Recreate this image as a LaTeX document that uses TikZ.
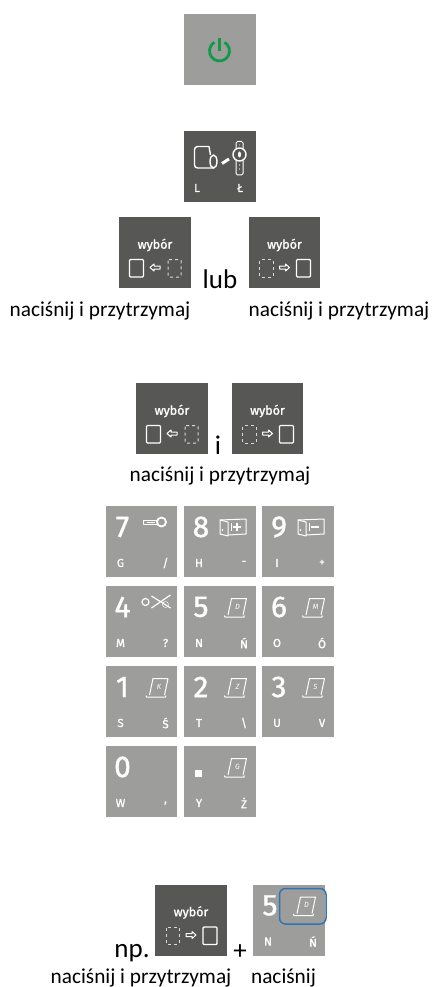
\documentclass[tikz,border=0pt]{standalone}
\usepackage{fontspec}
\setmainfont{Carlito}
\newfontfamily\keyfont{Fira Sans}
\newfontfamily\digitfont[FakeBold=1.2]{Fira Sans}
\definecolor{keygray}{HTML}{9D9D9C}
\definecolor{keydark}{HTML}{575756}
\definecolor{powergreen}{HTML}{139A48}
\definecolor{bluemark}{HTML}{2F75B5}
\tikzset{
  keybox/.style={fill=keygray,draw=none,minimum width=71.5pt,minimum height=71pt,inner sep=0,anchor=north west},
  darkbox/.style={fill=keydark,draw=none,minimum width=71.5pt,minimum height=71pt,inner sep=0,anchor=north west},
  digit/.style={text=white,inner sep=0,font=\digitfont\fontsize{30}{30}\selectfont},
  lab/.style={text=white,inner sep=0,font=\digitfont\fontsize{11.5}{12}\selectfont},
  paperletter/.style={text=white,inner sep=0,font=\keyfont\itshape\fontsize{7.5}{8}\selectfont},
  caption/.style={inner sep=0,anchor=base,text=black,font=\fontsize{21.3}{22}\selectfont},
  bigcaption/.style={inner sep=0,anchor=base,text=black,font=\fontsize{27}{28}\selectfont},
  wybor/.style={text=white,inner sep=0,font=\digitfont\fontsize{12.5}{13}\selectfont},
  icon/.style={draw=white,line width=1pt,line join=round},
  iconthick/.style={draw=white,line width=1.4pt,line join=round},
  dashedicon/.style={draw=white!85!black,line width=1pt,dash pattern=on 3pt off 3pt},
}
\newcommand{\paperico}[1]{%
  \draw[icon] (44,29) -- (47.5,12.5) -- (62.5,12.5) -- (59,29);
  \draw[icon] (40.5,29.5) -- (41,31) -- (60,31) -- (60.5,29.5);
  \node[paperletter] at (53.5,20.5) {#1};
}
\newcommand{\bookico}[1]{%
  \draw[icon] (36,14) -- (44,16) -- (44,30) -- (36,28) -- cycle;
  \draw[icon] (36,14) -- (62,13) -- (62,28) -- (44,29);
  \draw[icon] (47,17) -- (47,25);
  \fill[white] (38.5,24) circle[radius=1pt];
  \ifx+#1\draw[iconthick] (53,17) -- (53,25) (49,21) -- (57,21);\else\draw[iconthick] (49,21) -- (57,21);\fi
}
\newcommand{\keycap}[7]{%
  \node[keybox] (#1) at (#2,#3) {};
  \begin{scope}[shift={(#2,#3)}]
    \node[digit] (#1d) at (17,21) {#4};
    \node[lab] (#1l) at (15,57) {#5};
    \node[lab] (#1r) at (60,57) {#6};
    #7
  \end{scope}
}
\newcommand{\selectkeyL}[3]{%
  \node[darkbox] (#1) at (#2,#3) {};
  \begin{scope}[shift={(#2,#3)}]
    \node[wybor] (#1t) at (36,28) {wybór};
    \draw[iconthick,rounded corners=1pt] (10.5,42.5) rectangle (24.5,60);
    \draw[icon] (31,50.5) -- (35,47) -- (35,49) -- (41,49) -- (41,52) -- (35,52) -- (35,54) -- cycle;
    \draw[dashedicon,rounded corners=1pt] (49,42.5) rectangle (62,60);
  \end{scope}
}
\newcommand{\selectkeyR}[3]{%
  \node[darkbox] (#1) at (#2,#3) {};
  \begin{scope}[shift={(#2,#3)}]
    \node[wybor] (#1t) at (36,28) {wybór};
    \draw[dashedicon,rounded corners=1pt] (11,42.5) rectangle (24.5,60);
    \draw[icon] (41,50.5) -- (37,47) -- (37,49) -- (31,49) -- (31,52) -- (37,52) -- (37,54) -- cycle;
    \draw[iconthick,rounded corners=1pt] (48,42.5) rectangle (62,60);
  \end{scope}
}
\begin{document}
\begin{tikzpicture}[x=1pt,y=-1pt]
\useasboundingbox (0,0) rectangle (432,987);
% power
\node[keybox] (power) at (184,14) {};
\draw[powergreen,line width=2.8pt] (224.5,42.3) arc[start angle=60,end angle=-240,radius=10pt];
\draw[powergreen,line width=2.8pt] (219.5,38) -- (219.5,51);
% L key
\node[darkbox] (lkey) at (184,131) {};
\begin{scope}[shift={(184,131)}]
  \draw[iconthick,rounded corners=3pt] (25,15.5) -- (10.5,15.5) -- (10.5,37) -- (30,37);
  \draw[iconthick,rounded corners=2pt] (25,15.5) -- (26.5,24);
  \draw[iconthick] (29.5,30.5) ellipse[x radius=3.5pt,y radius=6.5pt];
  \draw[white,line width=3pt] (38,32.5) -- (45,28);
  \draw[icon,rounded corners=1.5pt] (52,10.5) rectangle (59,44);
  \fill[keydark] (55.5,23.5) circle[radius=7pt];
  \draw[iconthick] (55.5,23.5) circle[radius=6.5pt];
  \fill[white] (55.5,23.5) ellipse[x radius=1.5pt,y radius=3pt];
  \fill[white] (55.5,34) circle[radius=.7pt] (55.5,38) circle[radius=.7pt] (55.5,14) circle[radius=.5pt];
  \node[lab] (lkeyl) at (13,57) {L};
  \node[lab] (lkeyr) at (56,57) {Ł};
\end{scope}
% first selection pair
\selectkeyL{sa}{119}{217}
\node[bigcaption] (lub) at (220,288) {lub};
\selectkeyR{sb}{248.5}{217}
\node[caption] (ca) at (100,316.5) {naciśnij i przytrzymaj};
\node[caption] (cb) at (339,316.5) {naciśnij i przytrzymaj};
% second pair
\selectkeyL{sc}{136}{383}
\node[bigcaption] (andi) at (218,454) {i};
\selectkeyR{sd}{231.5}{383}
\node[caption] (cc) at (220,481) {naciśnij i przytrzymaj};
% keypad
\keycap{k7}{105.5}{506}{7}{G}{/}{%
  \draw[white,line width=1.8pt] (56,16) circle[radius=4.5pt];
  \draw[icon,line width=.7pt] (37.5,14.5) rectangle (51.5,18);
  \draw[white,line width=.7pt] (41,16.2) -- (49,16.2);
}
\keycap{k8}{184}{506}{8}{H}{-}{\bookico{+}}
\keycap{k9}{262}{506}{9}{I}{+}{\bookico{-}}
\keycap{k4}{105.5}{586}{4}{M}{?}{%
  \draw[icon,line width=1.2pt] (40,16) circle[radius=3.5pt];
  \draw[icon,line width=1.2pt] (46,22) -- (65,9) (46,10) -- (65,22);
  \draw[icon,line width=.5pt] (60,18.5) circle[radius=3pt];
}
\keycap{k5}{184}{586}{5}{N}{Ń}{\paperico{D}}
\keycap{k6}{262}{586}{6}{O}{Ó}{\paperico{M}}
\keycap{k1}{105.5}{666}{1}{S}{Ś}{\paperico{K}}
\keycap{k2}{184}{666}{2}{T}{\textbackslash}{\paperico{Z}}
\keycap{k3}{262}{666}{3}{U}{V}{\paperico{S}}
\keycap{k0}{105.5}{746}{0}{W}{,}{}
\keycap{kdot}{184}{746}{}{Y}{Ż}{%
  \fill[white] (10.5,23.5) rectangle (18,31);
  \paperico{G}
}
% example
\node[bigcaption] (np) at (132,957) {np.};
\selectkeyR{se}{155}{884.5}
\node[bigcaption] (plus) at (240,959) {+};
\keycap{kex}{253}{884.5}{5}{N}{Ń}{\paperico{D}}
\draw[bluemark,line width=1.5pt,rounded corners=6pt] (279.5,888.5) rectangle (326,924);
\node[caption] (ce) at (141,983) {naciśnij i przytrzymaj};
\node[caption] (cf) at (283.5,983) {naciśnij};
\end{tikzpicture}
\end{document}
